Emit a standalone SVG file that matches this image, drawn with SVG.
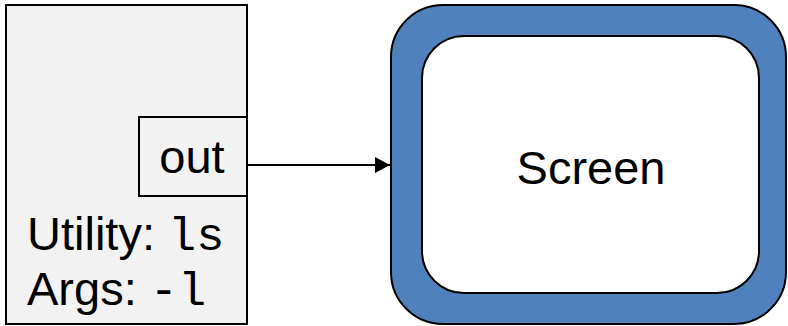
<svg xmlns="http://www.w3.org/2000/svg" width="788" height="326" viewBox="0 0 788 326">
<style>
.t{font-family:"Liberation Sans",Arial,sans-serif;font-size:47px;fill:#000}
tspan.m{font-family:"Liberation Mono","Courier New",monospace;font-weight:normal}
</style>
<defs>
<marker id="ah" markerWidth="16" markerHeight="16" refX="15" refY="8" orient="auto" markerUnits="userSpaceOnUse">
<path d="M0,0 L15,8 L0,16 z" fill="#000"/>
</marker>
</defs>
<g id="utility">
<rect x="6" y="5" width="241" height="319" fill="#f2f2f2" stroke="#000" stroke-width="2"/>
<text class="t" x="27" y="250">Utility: <tspan class="m" font-family="Liberation Mono, monospace">ls</tspan></text>
<text class="t" x="27" y="305">Args: <tspan class="m" font-family="Liberation Mono, monospace">-l</tspan></text>
</g>
<g id="out">
<rect x="139" y="117" width="108" height="79" fill="#f2f2f2" stroke="#000" stroke-width="2"/>
<text class="t" x="192" y="173" text-anchor="middle">out</text>
</g>
<g id="screen">
<rect x="391" y="5" width="395" height="319" rx="52" ry="52" fill="#4f81bd" stroke="#000" stroke-width="2"/>
<rect x="422" y="36" width="337" height="257" rx="42" ry="42" fill="#fff" stroke="#000" stroke-width="2"/>
<text class="t" x="591" y="184" text-anchor="middle">Screen</text>
</g>
<g id="connectors">
<line x1="247" y1="165" x2="390" y2="165" stroke="#000" stroke-width="2" marker-end="url(#ah)"/>
</g>
</svg>
